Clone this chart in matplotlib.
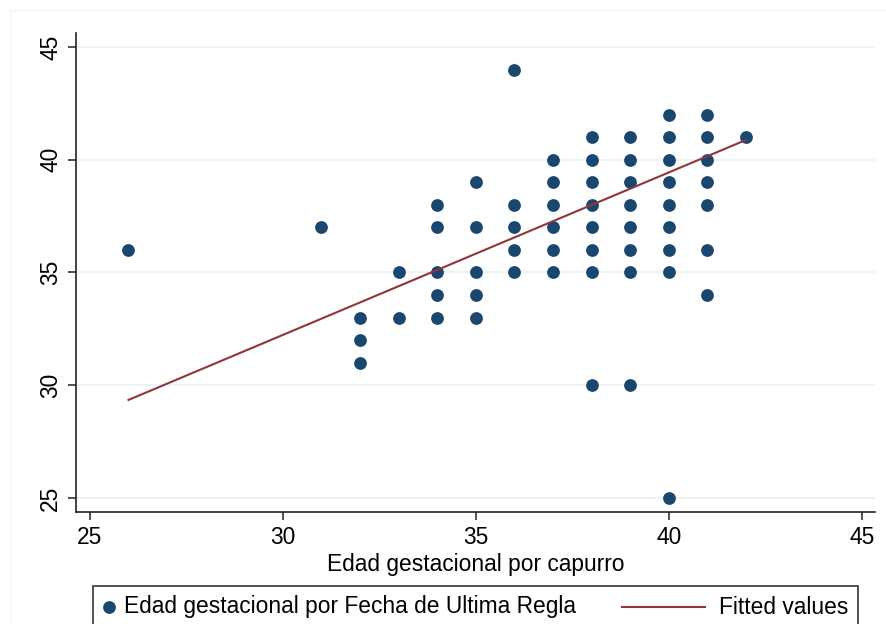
import matplotlib.pyplot as plt
from matplotlib.patches import Rectangle
from matplotlib.lines import Line2D

plt.rcParams['font.family'] = ['Liberation Sans', 'DejaVu Sans']

# edad gestacional: capurro (x) vs FUR (y), one entry per distinct pair
capurro = [26, 31,
           32, 32, 32,
           33, 33,
           34, 34, 34, 34, 34,
           35, 35, 35, 35, 35,
           36, 36, 36, 36, 36,
           37, 37, 37, 37, 37, 37,
           38, 38, 38, 38, 38, 38, 38, 38,
           39, 39, 39, 39, 39, 39, 39, 39,
           40, 40, 40, 40, 40, 40, 40, 40, 40,
           41, 41, 41, 41, 41, 41, 41,
           42]
fur = [36, 37,
       33, 32, 31,
       35, 33,
       38, 37, 35, 34, 33,
       39, 37, 35, 34, 33,
       44, 38, 37, 36, 35,
       40, 39, 38, 37, 36, 35,
       41, 40, 39, 38, 37, 36, 35, 30,
       41, 40, 39, 38, 37, 36, 35, 30,
       42, 41, 40, 39, 38, 37, 36, 35, 25,
       42, 41, 40, 39, 38, 36, 34,
       41]

# recta ajustada (lfit), extremos
fit_x = [26, 42]
fit_y = [29.35, 40.88]

xticks = [25, 30, 35, 40, 45]
yticks = [25, 30, 35, 40, 45]

navy = '#1a476f'
maroon = '#90353b'
W, H = 887, 624
fs = 16.4

fig = plt.figure(figsize=(W / 100, H / 100), dpi=100)
ax = fig.add_axes([76 / W, 1 - 512 / H, (875 - 76) / W, (512 - 33) / H])

for y in yticks:
    ax.axhline(y, color='#eaf2f3', lw=1.3, zorder=0)

ax.plot(capurro, fur, 'o', color=navy, markersize=9.2, markeredgewidth=0, zorder=2)
ax.plot(fit_x, fit_y, '-', color=maroon, lw=1.5, zorder=3)

ax.set_xlim(24.64, 45.34)
ax.set_ylim(24.38, 45.62)
ax.set_xticks(xticks)
ax.set_yticks(yticks)
ax.set_yticklabels([str(v) for v in yticks], rotation=90, va='center')
ax.tick_params(axis='both', labelsize=fs, length=6, width=1.2, color='#333333', pad=4)
for s in ['top', 'right']:
    ax.spines[s].set_visible(False)
for s in ['left', 'bottom']:
    ax.spines[s].set_linewidth(1.2)
    ax.spines[s].set_color('#222222')
ax.set_xlabel('Edad gestacional por capurro', fontsize=fs, labelpad=3)

# marco exterior tenue
fig.add_artist(Rectangle((10 / W, -0.1), (W - 10) / W + 0.1, 1.1 - 10 / H,
                         transform=fig.transFigure, fill=False,
                         edgecolor='#f4f4f4', lw=1))

# leyenda (cortada por abajo)
fig.add_artist(Rectangle((93 / W, -0.05), (858 - 93) / W, 0.05 + 1 - 586 / H,
                         transform=fig.transFigure, fill=False,
                         edgecolor='#444444', lw=1.3))
ly = 1 - 607 / H
fig.add_artist(Line2D([109 / W], [ly], marker='o', color=navy, markersize=9.2,
                      markeredgewidth=0, transform=fig.transFigure))
fig.text(124 / W, ly, 'Edad gestacional por Fecha de Ultima Regla',
         fontsize=fs, va='center', ha='left')
fig.add_artist(Line2D([622 / W, 705 / W], [ly, ly], color=maroon, lw=1.5,
                      transform=fig.transFigure))
fig.text(719 / W, ly, 'Fitted values', fontsize=fs, va='center', ha='left')

fig.savefig('out.png', dpi=100, facecolor='white')
